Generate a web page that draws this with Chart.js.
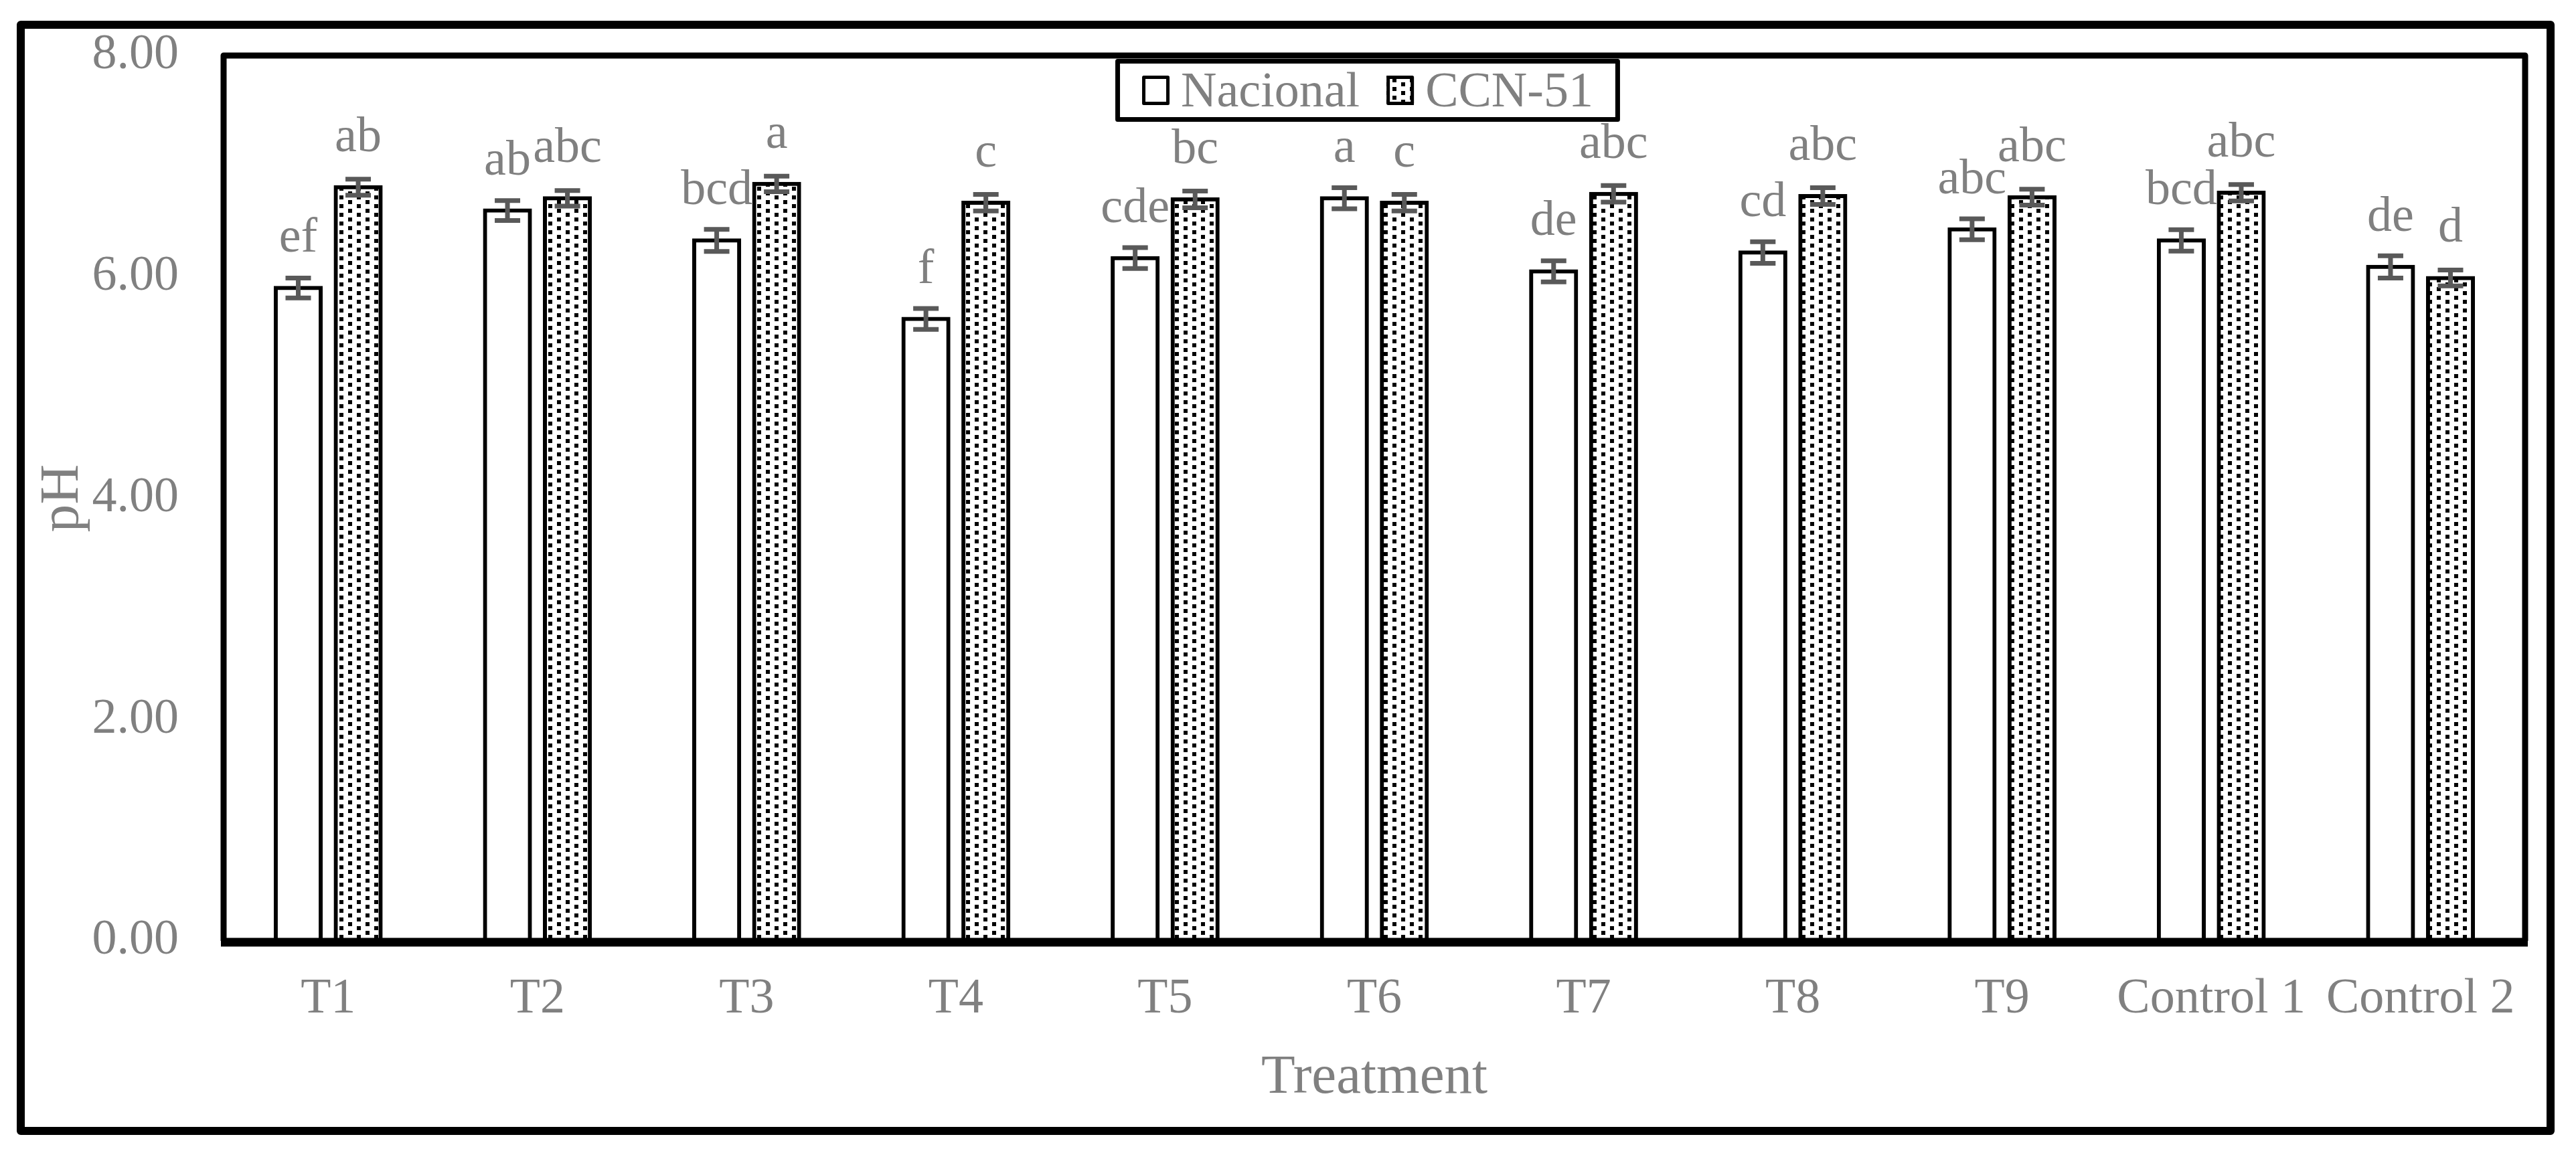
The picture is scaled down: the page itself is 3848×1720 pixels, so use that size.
<!DOCTYPE html>
<html>
<head>
<meta charset="utf-8">
<style>
html,body{margin:0;padding:0;background:#fff;overflow:hidden}
canvas{display:block}
</style>
<script src="https://cdn.jsdelivr.net/npm/chart.js@4.4.1/dist/chart.umd.min.js"></script>
</head>
<body>
<canvas id="c" width="3848" height="1720" style="width:3848px;height:1720px"></canvas>
<script>
// ---- data ----
const categories = ['T1','T2','T3','T4','T5','T6','T7','T8','T9','Control 1','Control 2'];
const nacional    = [5.90, 6.60, 6.33, 5.62, 6.17, 6.71, 6.05, 6.22, 6.43, 6.33, 6.09];
const ccn51       = [6.81, 6.71, 6.84, 6.67, 6.70, 6.67, 6.75, 6.73, 6.72, 6.76, 5.99];
const nacionalErr = [0.09, 0.09, 0.10, 0.095, 0.095, 0.095, 0.095, 0.097, 0.095, 0.097, 0.10];
const ccn51Err    = [0.073, 0.07, 0.07, 0.075, 0.075, 0.075, 0.075, 0.075, 0.072, 0.074, 0.072];
const nacionalLetters = ['ef','ab','bcd','f','cde','a','de','cd','abc','bcd','de'];
const ccn51Letters    = ['ab','abc','a','c','bc','c','abc','abc','abc','abc','d'];
const seriesNames = ['Nacional','CCN-51'];
const yMin = 0, yMax = 8, yStep = 2;
const xTitle = 'Treatment';
const yTitle = 'pH';

// ---- styles ----
const FAMILY = '"Liberation Serif", "Times New Roman", serif';
const GRAY = '#808080';
const ERR_COLOR = '#595959';

function makePattern(ctx){
  const t = document.createElement('canvas');
  t.width = 26; t.height = 26;
  const g = t.getContext('2d');
  g.fillStyle = '#fff'; g.fillRect(0,0,26,26);
  g.fillStyle = '#000';
  [[0,0],[0,13],[13,6],[13,19]].forEach(([x,y]) => g.fillRect(x,y,6,6));
  return ctx.createPattern(t,'repeat');
}

const decor = {
  id: 'decor',
  beforeDraw(chart){
    const c = chart.ctx;
    c.save(); c.fillStyle = '#fff'; c.fillRect(0,0,chart.width,chart.height); c.restore();
  },
  afterDatasetsDraw(chart){
    const {ctx, chartArea: a, scales: {y}} = chart;
    ctx.save();
    // plot frame
    ctx.strokeStyle = '#000';
    ctx.lineJoin = 'round';
    ctx.lineWidth = 9;
    ctx.beginPath();
    ctx.moveTo(a.left, a.bottom); ctx.lineTo(a.left, a.top);
    ctx.lineTo(a.right, a.top); ctx.lineTo(a.right, a.bottom);
    ctx.stroke();
    ctx.lineWidth = 13;
    ctx.beginPath();
    ctx.moveTo(a.left - 4, a.bottom + 2); ctx.lineTo(a.right + 4, a.bottom + 2);
    ctx.stroke();

    // error bars + letters
    chart.data.datasets.forEach((ds, i) => {
      const meta = chart.getDatasetMeta(i);
      meta.data.forEach((bar, j) => {
        const v = ds.data[j], e = ds.errors[j];
        const yt = y.getPixelForValue(v + e), yb = y.getPixelForValue(v - e);
        ctx.strokeStyle = ERR_COLOR; ctx.lineWidth = 7; ctx.lineCap = 'butt';
        ctx.beginPath();
        ctx.moveTo(bar.x, yt); ctx.lineTo(bar.x, yb);
        ctx.moveTo(bar.x - 19, yt); ctx.lineTo(bar.x + 19, yt);
        ctx.moveTo(bar.x - 19, yb); ctx.lineTo(bar.x + 19, yb);
        ctx.stroke();
        ctx.fillStyle = GRAY;
        ctx.font = '74px ' + FAMILY;
        ctx.textAlign = 'center'; ctx.textBaseline = 'alphabetic';
        ctx.fillText(ds.letters[j], bar.x, bar.y - 54);
      });
    });

    // legend box
    ctx.font = '74px ' + FAMILY;
    const items = chart.data.datasets.map(ds => ({label: ds.label, fill: ds.backgroundColor}));
    const sq = 41, gapT = 17, gapI = 40, padX = 40;
    const widths = items.map(it => sq + gapT + ctx.measureText(it.label).width);
    const groupW = widths.reduce((s, w) => s + w, 0) + gapI * (items.length - 1);
    const boxW = groupW + 2 * padX;
    const cx = (a.left + a.right) / 2 - 10;
    const bx = cx - boxW / 2, by = 88, bh = 94;
    ctx.fillStyle = '#fff'; ctx.fillRect(bx, by, boxW, bh);
    ctx.strokeStyle = '#000'; ctx.lineWidth = 7;
    ctx.strokeRect(bx + 3.5, by + 3.5, boxW - 7, bh - 7);
    let x = bx + padX;
    const cy = by + bh / 2;
    items.forEach((it, k) => {
      ctx.fillStyle = it.fill; ctx.fillRect(x, cy - 22, sq, 44);
      ctx.lineWidth = 5; ctx.strokeStyle = '#000';
      ctx.strokeRect(x + 2.5, cy - 19.5, sq - 5, 39);
      ctx.fillStyle = GRAY; ctx.textAlign = 'left'; ctx.textBaseline = 'alphabetic';
      ctx.fillText(it.label, x + sq + gapT, cy + 24);
      x += widths[k] + gapI;
    });
    ctx.restore();
  },
  afterDraw(chart){
    const ctx = chart.ctx;
    ctx.save();
    ctx.strokeStyle = '#000'; ctx.lineWidth = 12; ctx.lineJoin = 'round';
    ctx.strokeRect(31, 37, 3810 - 31, 1690 - 37);
    ctx.restore();
  }
};

function build(){
  const canvas = document.getElementById('c');
  const ctx = canvas.getContext('2d');
  const pattern = makePattern(ctx);
  const common = {borderColor:'#000', borderWidth:6, borderSkipped:false, inflateAmount:3,
                  barPercentage:0.75, categoryPercentage:0.573};
  new Chart(ctx, {
    type: 'bar',
    data: {
      labels: categories,
      datasets: [
        Object.assign({label: seriesNames[0], data: nacional, errors: nacionalErr, letters: nacionalLetters,
                       backgroundColor: '#fff'}, common),
        Object.assign({label: seriesNames[1], data: ccn51, errors: ccn51Err, letters: ccn51Letters,
                       backgroundColor: pattern}, common)
      ]
    },
    options: {
      responsive: false, animation: false, devicePixelRatio: 1,
      layout: {padding: {top: 83, right: 76, bottom: 0, left: 0}},
      plugins: {legend: {display: false}, tooltip: {enabled: false}},
      scales: {
        x: {
          grid: {display: false, drawTicks: false}, border: {display: false},
          ticks: {font: {family: FAMILY, size: 74}, color: GRAY, padding: 43, maxRotation: 0, autoSkip: false},
          title: {display: true, text: xTitle, font: {family: FAMILY, size: 83}, color: GRAY, padding: {top: 0, bottom: 59}},
          afterFit(s){ s.height = 314; s.paddingLeft = 0; s.paddingRight = 0; }
        },
        y: {
          min: yMin, max: yMax,
          grid: {display: false, drawTicks: false}, border: {display: false},
          ticks: {stepSize: yStep, callback: v => Number(v).toFixed(2), font: {family: FAMILY, size: 74}, color: GRAY, padding: 67},
          title: {display: true, text: yTitle, font: {family: FAMILY, size: 83}, color: GRAY, padding: {top: 44, bottom: 0}},
          afterFit(s){ s.width = 334; s.paddingTop = 0; s.paddingBottom = 0; }
        }
      }
    },
    plugins: [decor]
  });
}

if (document.fonts && document.fonts.load) {
  Promise.all([document.fonts.load('74px "Liberation Serif"')]).then(build, build);
} else { build(); }
</script>
</body>
</html>
